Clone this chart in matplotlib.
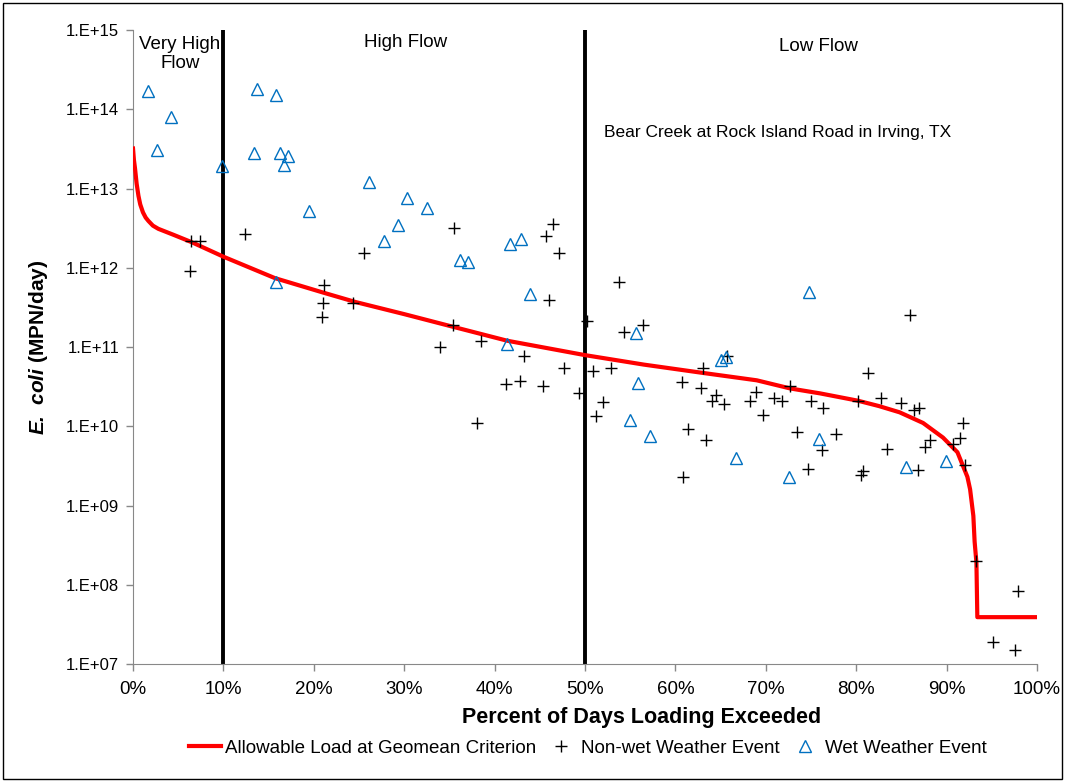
import matplotlib
matplotlib.use("Agg")
import matplotlib.pyplot as plt
from matplotlib.ticker import FixedLocator, FuncFormatter, NullLocator
from matplotlib.patches import Rectangle
import numpy as np

plt.rcParams['font.family'] = ['Liberation Sans', 'DejaVu Sans']
plt.rcParams['mathtext.fontset'] = 'custom'
plt.rcParams['mathtext.rm'] = 'Liberation Sans'
plt.rcParams['mathtext.bfit'] = 'Liberation Sans:italic:bold'

# allowable load curve (percent of days exceeded, MPN/day)
curve_pct = [0, 0.1, 0.22, 0.4, 0.6, 0.8, 1.1, 1.4, 1.7, 2.2, 2.8, 4.5, 6.5, 10, 15.7,
             21.2, 24.6, 30, 35.4, 41.4, 50, 56.5, 63.1, 69, 72.7, 76, 80.2, 82.5, 84.8,
             87.4, 89.6, 91.2, 92.3, 92.6, 92.96, 93.1, 93.3, 93.4, 100]
curve_load = [3.2e13, 2.3e13, 1.8e13, 1.15e13, 8.1e12, 6.3e12, 5.0e12, 4.3e12, 3.9e12,
              3.4e12, 3.1e12, 2.6e12, 2.1e12, 1.38e12, 7.4e11, 4.8e11, 3.7e11, 2.6e11,
              1.8e11, 1.2e11, 7.9e10, 6.0e10, 4.7e10, 3.8e10, 3.0e10, 2.6e10, 2.1e10,
              1.8e10, 1.5e10, 1.1e10, 7.2e9, 4.7e9, 2.3e9, 1.6e9, 7.4e8, 3.5e8, 1.9e8,
              3.9e7, 3.9e7]

# non-wet weather samples
dry_pct = [6.4, 7.4, 6.3, 12.4, 21.1, 21.0, 20.9, 24.3, 25.6, 35.5, 35.4, 34.0, 38.5,
           38.1, 41.3, 42.8, 43.3, 45.4, 45.7, 46.5, 47.1, 46.0, 47.7, 49.3, 50.2, 50.9,
           51.2, 52.0, 52.9, 53.8, 54.3, 56.4, 60.7, 60.8, 61.4, 62.8, 63.1, 63.4, 64.0,
           64.5, 65.4, 65.7, 68.3, 68.9, 69.7, 70.9, 71.8, 72.7, 73.5, 74.7, 75.0, 76.2,
           76.3, 77.8, 80.2, 80.5, 80.8, 81.3, 82.7, 83.4, 85.0, 86.0, 86.4, 86.8, 86.9,
           87.6, 88.2, 90.7, 91.5, 91.8, 92.0, 93.3, 95.1, 97.6, 97.9]
dry_load = [2.2e12, 2.2e12, 9.1e11, 2.7e12, 6.0e11, 3.6e11, 2.4e11, 3.6e11, 1.55e12,
            3.2e12, 1.9e11, 1.0e11, 1.2e11, 1.1e10, 3.4e10, 3.7e10, 7.8e10, 3.2e10,
            2.5e12, 3.6e12, 1.55e12, 3.9e11, 5.5e10, 2.6e10, 2.1e11, 5.0e10, 1.35e10,
            2.0e10, 5.4e10, 6.6e11, 1.55e11, 1.9e11, 3.6e10, 2.3e9, 9.3e9, 3.0e10,
            5.4e10, 6.8e9, 2.1e10, 2.5e10, 1.9e10, 7.8e10, 2.1e10, 2.7e10, 1.4e10,
            2.3e10, 2.1e10, 3.2e10, 8.5e9, 2.9e9, 2.1e10, 5.0e9, 1.7e10, 7.9e9, 2.1e10,
            2.4e9, 2.75e9, 4.7e10, 2.3e10, 5.1e9, 1.95e10, 2.5e11, 1.6e10, 2.8e9, 1.7e10,
            5.5e9, 6.8e9, 6.0e9, 7.2e9, 1.1e10, 3.2e9, 2.0e8, 1.9e7, 1.5e7, 8.3e7]

# wet weather samples
wet_pct = [1.7, 2.7, 4.2, 9.8, 13.7, 15.8, 13.4, 16.3, 17.1, 16.7, 15.8, 19.5, 26.1,
           30.3, 29.3, 27.8, 32.5, 36.2, 37.1, 41.7, 42.9, 43.9, 41.4, 55.6, 55.9, 55.0,
           57.2, 65.0, 65.6, 66.7, 72.6, 74.8, 75.9, 85.5, 89.9]
wet_load = [1.7e14, 3.1e13, 8.1e13, 1.9e13, 1.8e14, 1.5e14, 2.8e13, 2.8e13, 2.6e13,
            2.0e13, 6.6e11, 5.2e12, 1.2e13, 7.6e12, 3.5e12, 2.2e12, 5.6e12, 1.26e12,
            1.17e12, 2.0e12, 2.3e12, 4.7e11, 1.1e11, 1.5e11, 3.5e10, 1.2e10, 7.6e9,
            6.9e10, 7.4e10, 4.0e9, 2.3e9, 4.9e11, 6.9e9, 3.1e9, 3.6e9]

flow_breaks = [10, 50]
x_ticks = list(range(0, 101, 10))
y_ticks = [1e7, 1e8, 1e9, 1e10, 1e11, 1e12, 1e13, 1e14, 1e15]

fig = plt.figure(figsize=(10.65, 7.82), dpi=100)
ax = fig.add_axes([0.1249, 0.1509, 0.8488, 0.8107])

ax.plot(curve_pct, curve_load, color='#FF0000', lw=3, zorder=3,
        label='Allowable Load at Geomean Criterion')
ax.plot(dry_pct, dry_load, ls='none', marker='+', ms=9, mew=1.0, color='black', zorder=4,
        label='Non-wet Weather Event')
ax.plot(wet_pct, wet_load, ls='none', marker='^', ms=9, mew=1.0, mfc='none',
        mec='#0070C0', zorder=4, label='Wet Weather Event')
for b in flow_breaks:
    ax.axvline(b, color='black', lw=2.8, zorder=2)

ax.set_yscale('log')
ax.set_xlim(0, 100)
ax.set_ylim(1e7, 1e15)
ax.xaxis.set_major_locator(FixedLocator(x_ticks))
ax.xaxis.set_major_formatter(FuncFormatter(lambda v, p: f'{int(v)}%'))
ax.yaxis.set_major_locator(FixedLocator(y_ticks))
ax.yaxis.set_minor_locator(NullLocator())
ax.yaxis.set_major_formatter(FuncFormatter(lambda v, p: '1.E+%02d' % round(np.log10(v))))
ax.tick_params(axis='both', color='#888888', length=5, width=1)
ax.tick_params(axis='x', labelsize=13.5, pad=7)
ax.tick_params(axis='y', labelsize=12, pad=5)
for s in ['top', 'right']:
    ax.spines[s].set_visible(False)
for s in ['left', 'bottom']:
    ax.spines[s].set_color('#888888')

ax.set_xlabel('Percent of Days Loading Exceeded', fontsize=15.5, fontweight='bold')
ax.xaxis.set_label_coords(0.563, -0.068)
ax.set_ylabel(r'$\mathbfit{E.\ coli}$ (MPN/day)', fontsize=15, fontweight='bold')
ax.yaxis.set_label_coords(-0.092, 0.5)

ax.text(5.2, 5.0e14, 'Very High\nFlow', ha='center', va='center', fontsize=13.5,
        linespacing=1.12)
ax.text(30.2, 6.9e14, 'High Flow', ha='center', va='center', fontsize=13.5)
ax.text(75.8, 6.2e14, 'Low Flow', ha='center', va='center', fontsize=13.5)
ax.text(52.1, 5.1e13, 'Bear Creek at Rock Island Road in Irving, TX', ha='left',
        va='center', fontsize=12.5)

fig.legend(loc='center', bbox_to_anchor=(0.552, 0.0435), ncol=3, frameon=False,
           fontsize=13.5, handlelength=1.7, columnspacing=0.5, handletextpad=0.2)

fig.patches.append(Rectangle((0.003, 0.004), 0.994, 0.992, transform=fig.transFigure,
                             fill=False, edgecolor='black', lw=1))

fig.savefig('out.png', dpi=100)
